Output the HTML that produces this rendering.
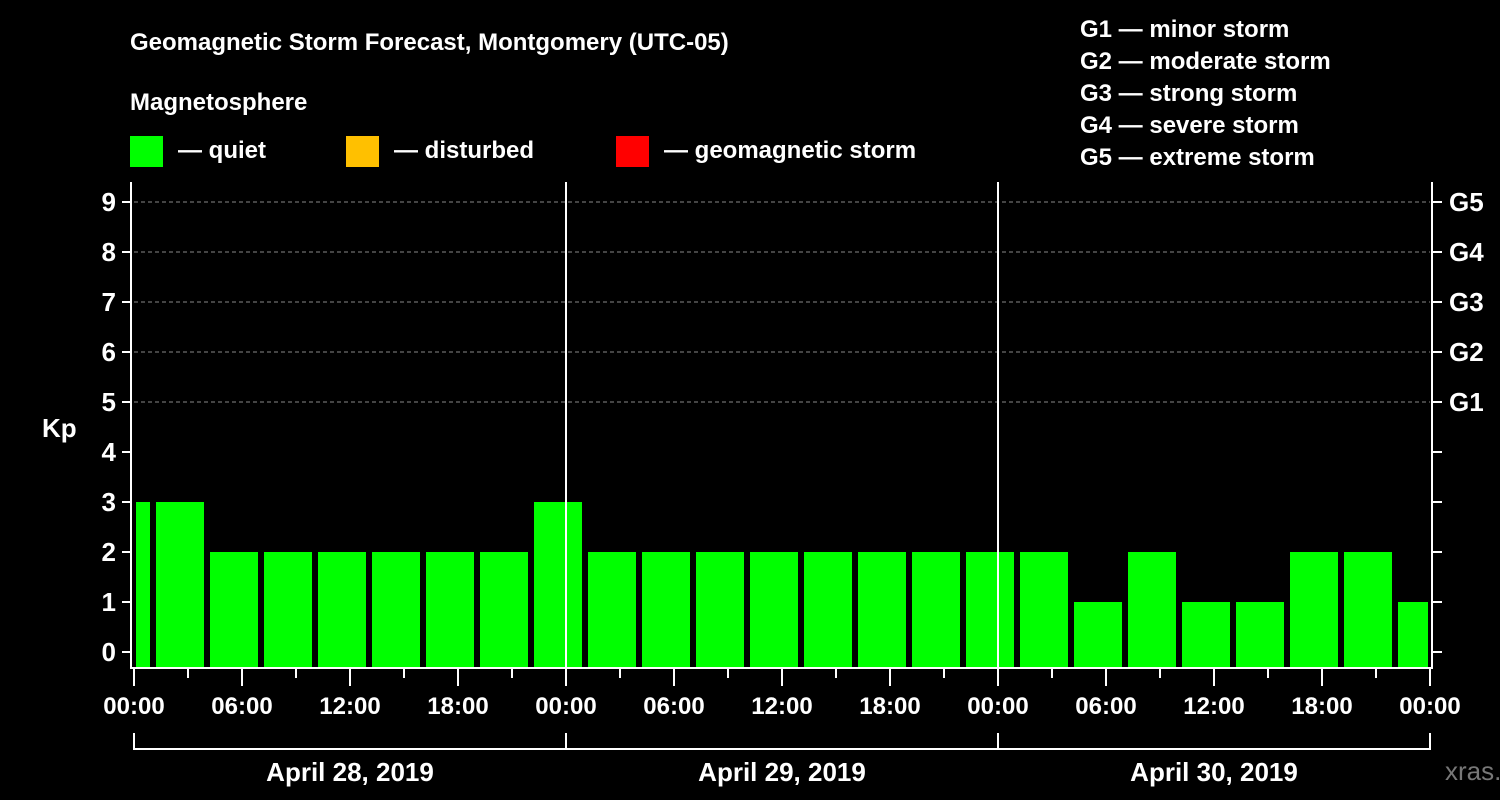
<!DOCTYPE html>
<html><head><meta charset="utf-8"><style>
html,body{margin:0;padding:0;background:#000;}
svg{display:block;font-family:"Liberation Sans",Arial,sans-serif;font-weight:bold;}
</style></head><body>
<svg width="1500" height="800" viewBox="0 0 1500 800">
<text x="130" y="50" font-size="24" fill="#fff">Geomagnetic Storm Forecast, Montgomery (UTC-05)</text>
<text x="130" y="110" font-size="24" fill="#fff">Magnetosphere</text>
<rect x="130" y="136" width="33" height="31" fill="#00ff00"/>
<text x="178" y="158" font-size="24" fill="#fff">— quiet</text>
<rect x="346" y="136" width="33" height="31" fill="#ffc000"/>
<text x="394" y="158" font-size="24" fill="#fff">— disturbed</text>
<rect x="616" y="136" width="33" height="31" fill="#ff0000"/>
<text x="664" y="158" font-size="24" fill="#fff">— geomagnetic storm</text>
<g font-size="24" fill="#fff">
<text x="1080" y="37">G1 — minor storm</text>
<text x="1080" y="69">G2 — moderate storm</text>
<text x="1080" y="101">G3 — strong storm</text>
<text x="1080" y="133">G4 — severe storm</text>
<text x="1080" y="165">G5 — extreme storm</text>
</g>
<text x="42" y="437" font-size="26" fill="#fff">Kp</text>
<text x="1445" y="780" font-size="26" fill="#777" font-weight="normal">xras.ru</text>
<g id="grid"></g><g id="bars"></g><g id="axes"></g>
<script>
const kpValues=[3,3,2,2,2,2,2,2,3,2,2,2,2,2,2,2,2,2,1,2,1,1,2,2,1];
const barStartHours=[-2,1,4,7,10,13,16,19,22,25,28,31,34,37,40,43,46,49,52,55,58,61,64,67,70];
const xTickLabels=["00:00","06:00","12:00","18:00","00:00","06:00","12:00","18:00","00:00","06:00","12:00","18:00","00:00"];
const dateLabels=["April 28, 2019","April 29, 2019","April 30, 2019"];
const gLabels=["G1","G2","G3","G4","G5"];
const NS="http://www.w3.org/2000/svg";
const X0=134,X1=1430,H=72,YB=668;
const x=h=>X0+(X1-X0)*h/H;
const y=v=>652-50*v;
function mk(t,a,p){const e=document.createElementNS(NS,t);for(const k in a)e.setAttribute(k,a[k]);p.appendChild(e);return e;}
const grid=document.getElementById('grid'),bars=document.getElementById('bars'),axes=document.getElementById('axes');
for(let v=5;v<=9;v++){const l=mk('line',{x1:X0,x2:X1,y1:y(v),y2:y(v),stroke:'#888','stroke-dasharray':'4,3','stroke-width':1},grid);

}
kpValues.forEach((v,i)=>{const s=barStartHours[i];let a=x(s)+4,b=x(s+3)-2;
if(s<0){a=x(0)+2;} if(s+3>H){b=x(H)-2;}
const r=mk('rect',{x:a,y:y(v),width:b-a,height:YB-1-y(v),fill:v>=5?'#ff0000':(v>=4?'#ffc000':'#00ff00')},bars);

});
const W={stroke:'#fff','stroke-width':2};
mk('line',Object.assign({x1:131,x2:131,y1:182,y2:669},W),axes);
mk('line',Object.assign({x1:1432,x2:1432,y1:182,y2:669},W),axes);
mk('line',Object.assign({x1:130,x2:1433,y1:668,y2:668},W),axes);
[24,48].forEach(h=>mk('line',Object.assign({x1:x(h),x2:x(h),y1:182,y2:668},W),axes));
for(let v=0;v<=9;v++){mk('line',Object.assign({x1:122,x2:131,y1:y(v),y2:y(v)},W),axes);
mk('line',Object.assign({x1:1432,x2:1442,y1:y(v),y2:y(v)},W),axes);
const t=mk('text',{x:116,y:y(v)+9,'font-size':26,fill:'#fff','text-anchor':'end'},axes);t.textContent=v;

}
gLabels.forEach((g,i)=>{const t=mk('text',{x:1449,y:y(5+i)+9,'font-size':26,fill:'#fff'},axes);t.textContent=g;

});
for(let h=0;h<=H;h+=3){const major=h%6===0;mk('line',Object.assign({x1:x(h),x2:x(h),y1:668,y2:major?686:678},W),axes);}
xTickLabels.forEach((s,i)=>{const t=mk('text',{x:x(i*6),y:714,'font-size':24,fill:'#fff','text-anchor':'middle'},axes);t.textContent=s;

});
mk('line',Object.assign({x1:x(0)-1,x2:x(H)+1,y1:749,y2:749},W),axes);
[0,24,48,72].forEach(h=>mk('line',Object.assign({x1:x(h),x2:x(h),y1:733,y2:749},W),axes));
dateLabels.forEach((s,i)=>{const t=mk('text',{x:x(i*24+12),y:781,'font-size':26,fill:'#fff','text-anchor':'middle'},axes);t.textContent=s;

});
</script>
</svg>
</body></html>
